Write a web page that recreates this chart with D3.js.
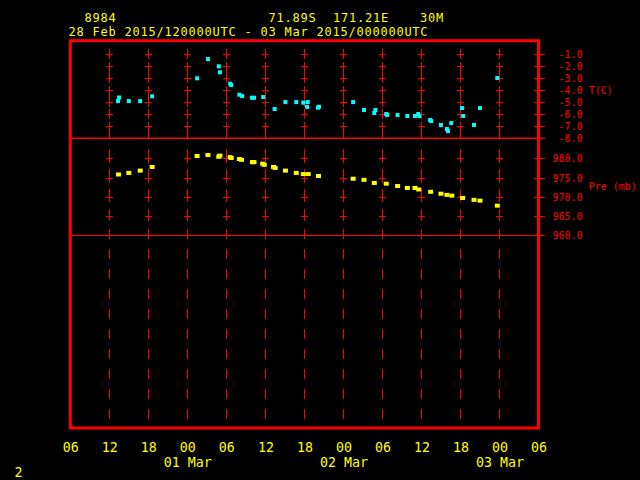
<!DOCTYPE html>
<html>
<head>
<meta charset="utf-8">
<script src="https://cdn.jsdelivr.net/npm/d3@7"></script>
<style>
  html, body { margin: 0; padding: 0; background: #000; }
  svg { display: block; }
  text { font-family: "DejaVu Sans Mono", "Liberation Mono", monospace; }
</style>
</head>
<body>
<svg id="chart" width="640" height="480"></svg>
<script>
// ---------------- DATA ----------------
const stationId = "8984";
const latText = "71.89S";
const lonText = "171.21E";
const heightText = "30M";
const periodText = "28 Feb 2015/120000UTC - 03 Mar 2015/000000UTC";
const pageNumber = "2";

const tempTimes = [
  "2015-02-28T13:20Z","2015-02-28T13:30Z","2015-02-28T15:00Z","2015-02-28T16:45Z","2015-02-28T18:35Z",
  "2015-03-01T01:30Z","2015-03-01T03:10Z","2015-03-01T04:50Z","2015-03-01T05:00Z","2015-03-01T06:35Z",
  "2015-03-01T06:45Z","2015-03-01T08:00Z","2015-03-01T08:25Z","2015-03-01T09:55Z","2015-03-01T10:15Z",
  "2015-03-01T11:40Z","2015-03-01T13:25Z","2015-03-01T15:05Z","2015-03-01T16:45Z","2015-03-01T17:50Z",
  "2015-03-01T18:25Z","2015-03-01T18:30Z","2015-03-01T20:05Z","2015-03-01T20:15Z","2015-03-02T01:30Z",
  "2015-03-02T03:10Z","2015-03-02T04:45Z","2015-03-02T04:55Z","2015-03-02T06:35Z","2015-03-02T06:45Z",
  "2015-03-02T08:20Z","2015-03-02T09:50Z","2015-03-02T11:00Z","2015-03-02T11:30Z","2015-03-02T11:40Z",
  "2015-03-02T13:20Z","2015-03-02T13:30Z","2015-03-02T15:00Z","2015-03-02T15:55Z","2015-03-02T16:05Z",
  "2015-03-02T16:35Z","2015-03-02T18:15Z","2015-03-02T18:25Z","2015-03-02T20:05Z","2015-03-02T21:00Z",
  "2015-03-02T23:40Z"
];
const tempValues = [
  -4.9, -4.6, -4.9, -4.9, -4.5,
  -3.0, -1.4, -2.0, -2.5, -3.45,
  -3.56, -4.37, -4.48, -4.62, -4.62,
  -4.56, -5.56, -4.98, -4.98, -5.03,
  -5.39, -4.98, -5.45, -5.37, -4.98,
  -5.64, -5.89, -5.64, -5.98, -6.06,
  -6.06, -6.14, -6.14, -5.98, -6.14,
  -6.48, -6.56, -6.89, -7.23, -7.39,
  -6.73, -5.48, -6.14, -6.89, -5.48,
  -2.98
];

const presTimes = [
  "2015-02-28T13:25Z","2015-02-28T15:00Z","2015-02-28T16:45Z","2015-02-28T18:35Z",
  "2015-03-01T01:30Z","2015-03-01T03:10Z","2015-03-01T04:50Z","2015-03-01T05:00Z","2015-03-01T06:35Z",
  "2015-03-01T06:45Z","2015-03-01T08:00Z","2015-03-01T08:20Z","2015-03-01T10:00Z","2015-03-01T10:15Z",
  "2015-03-01T11:35Z","2015-03-01T11:50Z","2015-03-01T13:15Z","2015-03-01T13:30Z","2015-03-01T15:05Z",
  "2015-03-01T16:45Z","2015-03-01T17:50Z","2015-03-01T18:35Z","2015-03-01T20:10Z","2015-03-02T01:30Z",
  "2015-03-02T03:10Z","2015-03-02T04:45Z","2015-03-02T06:35Z","2015-03-02T08:20Z","2015-03-02T09:50Z",
  "2015-03-02T11:00Z","2015-03-02T11:35Z","2015-03-02T13:25Z","2015-03-02T15:00Z","2015-03-02T15:55Z",
  "2015-03-02T16:40Z","2015-03-02T18:20Z","2015-03-02T20:05Z","2015-03-02T21:00Z","2015-03-02T23:40Z"
];
const presValues = [
  975.8, 976.2, 976.8, 977.75,
  980.6, 980.85, 980.4, 980.7, 980.3,
  980.1, 979.8, 979.6, 979.0, 979.0,
  978.6, 978.3, 977.75, 977.5, 976.8,
  976.2, 975.9, 975.9, 975.4, 974.7,
  974.4, 973.6, 973.4, 972.8, 972.3,
  972.3, 971.9, 971.3, 970.8, 970.5,
  970.3, 969.7, 969.2, 969.0, 967.7
];

const timeTicks = [
  "2015-02-28T06:00Z","2015-02-28T12:00Z","2015-02-28T18:00Z","2015-03-01T00:00Z",
  "2015-03-01T06:00Z","2015-03-01T12:00Z","2015-03-01T18:00Z","2015-03-02T00:00Z",
  "2015-03-02T06:00Z","2015-03-02T12:00Z","2015-03-02T18:00Z","2015-03-03T00:00Z",
  "2015-03-03T06:00Z"
];
const timeTickLabels = ["06","12","18","00","06","12","18","00","06","12","18","00","06"];
const dayTicks = ["2015-03-01T00:00Z","2015-03-02T00:00Z","2015-03-03T00:00Z"];
const dayLabels = ["01 Mar","02 Mar","03 Mar"];

const tempTicks = [-1, -2, -3, -4, -5, -6, -7, -8];
const tempTickLabels = ["-1.0","-2.0","-3.0","-4.0","-5.0","-6.0","-7.0","-8.0"];
const presTicks = [980, 975, 970, 965, 960];
const presTickLabels = ["980.0","975.0","970.0","965.0","960.0"];
const tempTitle = "T(C)";
const presTitle = "Pre (mb)";

// ---------------- DRAW ----------------
const RED = "#ff0000", YEL = "#ffff00", CYAN = "#00ffff";
const svg = d3.select("#chart");
svg.append("rect").attr("width", 640).attr("height", 480).attr("fill", "#000");

const parse = s => new Date(s);
const frame = { left: 70.3, right: 538.5, top: 40.7, bottom: 428 };

const x = d3.scaleUtc()
  .domain([parse(timeTicks[0]), parse(timeTicks[timeTicks.length - 1])])
  .range([frame.left, frame.right]);
const yT = d3.scaleLinear().domain([-1, -8]).range([54.3, 138.3]);
const yP = d3.scaleLinear().domain([980, 960]).range([158.3, 235.3]);

// vertical dashed grid lines with crosses
const inner = timeTicks.slice(1, -1).map(parse);
const grid = svg.append("g").attr("stroke", RED).attr("stroke-width", 1).attr("shape-rendering", "crispEdges");
inner.forEach(t => {
  const gx = Math.floor(x(t)) + 0.5;
  grid.append("line").attr("x1", gx).attr("x2", gx).attr("y1", 49).attr("y2", 426)
    .attr("stroke-dasharray", "10,10");
  tempTicks.slice(0, -1).forEach(v => {
    const gy = Math.round(yT(v)) + 0.5;
    grid.append("line").attr("x1", gx).attr("x2", gx).attr("y1", gy - 4.5).attr("y2", gy + 4.5);
    grid.append("line").attr("x1", gx - 3.5).attr("x2", gx + 3.5).attr("y1", gy).attr("y2", gy);
  });
  presTicks.slice(0, -1).forEach(v => {
    const gy = Math.round(yP(v)) + 0.5;
    grid.append("line").attr("x1", gx).attr("x2", gx).attr("y1", gy - 4.5).attr("y2", gy + 4.5);
    grid.append("line").attr("x1", gx - 3.5).attr("x2", gx + 3.5).attr("y1", gy).attr("y2", gy);
  });
});

// panel separators
svg.append("line").attr("x1", frame.left).attr("x2", 545).attr("y1", yT(-8)).attr("y2", yT(-8))
  .attr("stroke", RED).attr("stroke-width", 1.5);
svg.append("line").attr("x1", frame.left).attr("x2", 545).attr("y1", Math.round(yP(960)) + 0.5).attr("y2", Math.round(yP(960)) + 0.5)
  .attr("stroke", RED).attr("stroke-width", 1).attr("shape-rendering", "crispEdges");

// frame
svg.append("rect")
  .attr("x", frame.left).attr("y", frame.top)
  .attr("width", frame.right - frame.left).attr("height", frame.bottom - frame.top)
  .attr("fill", "none").attr("stroke", RED).attr("stroke-width", 3);

// right axes
function styleRight(g, labels) {
  g.select(".domain").remove();
  g.selectAll(".tick line").attr("stroke", RED).attr("x1", -4.5).attr("x2", 6.5).attr("shape-rendering", "crispEdges");
  g.selectAll(".tick text")
    .attr("fill", RED).attr("text-anchor", "end").attr("x", 44.2)
    .attr("font-size", "10px").attr("dy", "0.36em")
    .text((d, i) => labels[i]);
}
svg.append("g").attr("transform", `translate(${frame.right},0)`)
  .call(d3.axisRight(yT).tickValues(tempTicks).tickSize(0))
  .call(g => styleRight(g, tempTickLabels));
svg.append("g").attr("transform", `translate(${frame.right},0)`)
  .call(d3.axisRight(yP).tickValues(presTicks).tickSize(0))
  .call(g => styleRight(g, presTickLabels));

svg.append("text").attr("x", 588.7).attr("y", yT(-4)).attr("dy", "0.36em")
  .attr("fill", RED).attr("font-size", "10px").text(tempTitle);
svg.append("text").attr("x", 588.7).attr("y", 186.7).attr("dy", "0.36em")
  .attr("fill", RED).attr("font-size", "10px").text(presTitle);

// bottom axis labels
const bx = svg.append("g").attr("transform", `translate(0,${frame.bottom})`)
  .call(d3.axisBottom(x).tickValues(timeTicks.map(parse)).tickSize(0).tickFormat((d, i) => timeTickLabels[i]));
bx.select(".domain").remove();
bx.selectAll(".tick text").attr("fill", YEL).attr("font-size", "13.3px").attr("y", 24).attr("dy", 0);

const dx = svg.append("g").attr("transform", `translate(0,${frame.bottom})`)
  .call(d3.axisBottom(x).tickValues(dayTicks.map(parse)).tickSize(0).tickFormat((d, i) => dayLabels[i]));
dx.select(".domain").remove();
dx.selectAll(".tick text").attr("fill", YEL).attr("font-size", "13.3px").attr("y", 39).attr("dy", 0);

// header
const hdr = svg.append("g").attr("fill", YEL).attr("font-size", "12px").attr("letter-spacing", "0.78px");
hdr.append("text").attr("x", 84.5).attr("y", 22).text(stationId);
hdr.append("text").attr("x", 268.6).attr("y", 22).text(latText);
hdr.append("text").attr("x", 333).attr("y", 22).text(lonText);
hdr.append("text").attr("x", 420).attr("y", 22).text(heightText);
svg.append("text").attr("x", 68.6).attr("y", 36).attr("fill", YEL).attr("font-size", "12px")
  .attr("textLength", 359).text(periodText);
svg.append("text").attr("x", 14.5).attr("y", 476.5).attr("fill", YEL).attr("font-size", "13.3px").text(pageNumber);

// data points
svg.append("g").selectAll("rect").data(tempTimes.map((t, i) => ({ t: parse(t), v: tempValues[i] })))
  .join("rect")
  .attr("x", d => x(d.t) - 2).attr("y", d => yT(d.v) - 2)
  .attr("width", 4).attr("height", 4).attr("fill", CYAN);

svg.append("g").selectAll("rect").data(presTimes.map((t, i) => ({ t: parse(t), v: presValues[i] })))
  .join("rect")
  .attr("x", d => x(d.t) - 2.5).attr("y", d => yP(d.v) - 2)
  .attr("width", 5).attr("height", 4).attr("fill", YEL);
</script>
</body>
</html>
